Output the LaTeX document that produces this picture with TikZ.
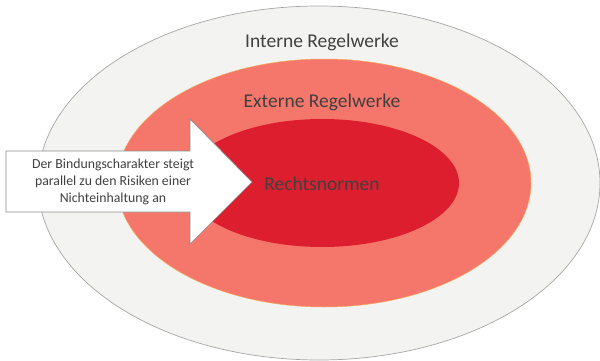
\documentclass[tikz,border=0pt]{standalone}
\usepackage{fontspec}
\setmainfont{Carlito}
\usetikzlibrary{shapes.geometric}
\definecolor{outerfill}{HTML}{F3F3F1}
\definecolor{outerline}{HTML}{A6A6A6}
\definecolor{midfill}{HTML}{F5776B}
\definecolor{midline}{HTML}{F7A85A}
\definecolor{innerfill}{HTML}{DC1E2E}
\definecolor{txt}{HTML}{404040}
\definecolor{arrline}{HTML}{8C8C8C}
\tikzset{
  ring/.style={ellipse, inner sep=0pt},
  biglabel/.style={text=txt, font=\fontsize{19.5}{22}\selectfont, inner sep=0pt},
  arrowtext/.style={text=txt, font=\fontsize{13.8}{17}\selectfont, align=center, inner sep=0pt}
}
\begin{document}
\begin{tikzpicture}[x=1pt,y=-1pt]
\useasboundingbox (0,0) rectangle (600,361);
\node[ring, fill=outerfill, draw=outerline, line width=0.7pt, minimum width=562pt, minimum height=354pt] (outer) at (319,183) {};
\node[ring, fill=midfill, draw=midline, line width=0.5pt, minimum width=414pt, minimum height=248pt] (middle) at (324,183) {};
\node[ring, fill=innerfill, minimum width=274pt, minimum height=128pt] (inner) at (322,183) {};
\node[biglabel] (lint) at (322,42) {Interne Regelwerke};
\node[biglabel] (lext) at (322,102) {Externe Regelwerke};
\node[biglabel] (lrecht) at (322,184) {Rechtsnormen};
\draw[fill=white, draw=arrline, line width=0.7pt] (6,151) -- (190,151) -- (190,119) -- (252,182) -- (190,244) -- (190,212) -- (6,212) -- cycle;
\node[arrowtext] (atext) at (113,182) {Der Bindungscharakter steigt\\parallel zu den Risiken einer\\Nichteinhaltung an};
\end{tikzpicture}
\end{document}
